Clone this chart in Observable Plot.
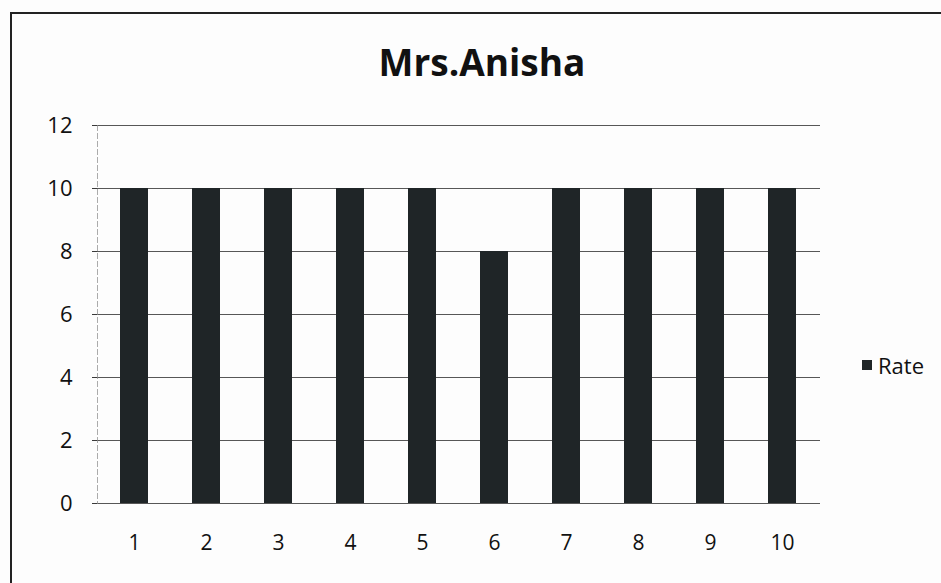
<!DOCTYPE html>
<html>
<head>
<meta charset="utf-8">
<script src="https://cdn.jsdelivr.net/npm/d3@7"></script>
<script src="https://cdn.jsdelivr.net/npm/@observablehq/plot@0.6"></script>
<style>
  html, body { margin: 0; padding: 0; background: #fff; }
  #wrap { position: relative; width: 941px; height: 583px; overflow: hidden; background: #fdfdfd; }
  #frame { position: absolute; left: 10px; top: 12px; width: 940px; height: 580px;
           border-left: 2px solid #222; border-top: 2px solid #222; box-sizing: border-box; }
  #title { position: absolute; left: 0; width: 964px; top: 36px; text-align: center;
           font-family: "Open Sans", Lato, sans-serif; font-weight: bold; font-size: 37px; color: #111; }
  #chart { position: absolute; left: 0; top: 0; }
  #legend { position: absolute; left: 862px; top: 350px; font-family: "Open Sans", Lato, sans-serif;
            font-size: 22px; color: #111; display: flex; align-items: center; }
  #legend .sw { width: 10px; height: 10px; background: #1f2527; margin-right: 6px; }
</style>
</head>
<body>
<div id="wrap">
  <div id="frame"></div>
  <div id="chart"></div>
  <div id="title">Mrs.Anisha</div>
  <div id="legend"><span class="sw"></span><span>Rate</span></div>
</div>
<script>
const categories = [1, 2, 3, 4, 5, 6, 7, 8, 9, 10];
const rate = [10, 10, 10, 10, 10, 8, 10, 10, 10, 10];
const yTicks = [0, 2, 4, 6, 8, 10, 12];
const seriesName = "Rate";

const data = categories.map((c, i) => ({ cat: c, value: rate[i], series: seriesName }));

const chart = Plot.plot({
  width: 941,
  height: 583,
  marginLeft: 97,
  marginRight: 121,
  marginTop: 125,
  marginBottom: 80,
  style: { fontFamily: "'Open Sans', Lato, sans-serif", background: "transparent", color: "#111" },
  x: { type: "band", domain: categories, paddingInner: 0.61, paddingOuter: 0.305, label: null },
  y: { domain: [0, 12], ticks: yTicks, label: null },
  marks: [
    Plot.ruleY(yTicks, { stroke: "#3a3a3a", strokeWidth: 1.2, strokeOpacity: 0.85 }),
    Plot.frame({ anchor: "left", stroke: "#888", strokeOpacity: 0.7, strokeDasharray: "5,3" }),
    Plot.barY(data, { x: "cat", y: "value", fill: "#1f2527" }),
    Plot.axisY({ ticks: yTicks, tickSize: 5, tickPadding: 20, fontSize: 22, stroke: "#3a3a3a", label: null }),
    Plot.axisX({ tickSize: 0, tickPadding: 32, fontSize: 21, label: null })
  ]
});
document.getElementById("chart").appendChild(chart);
</script>
</body>
</html>
